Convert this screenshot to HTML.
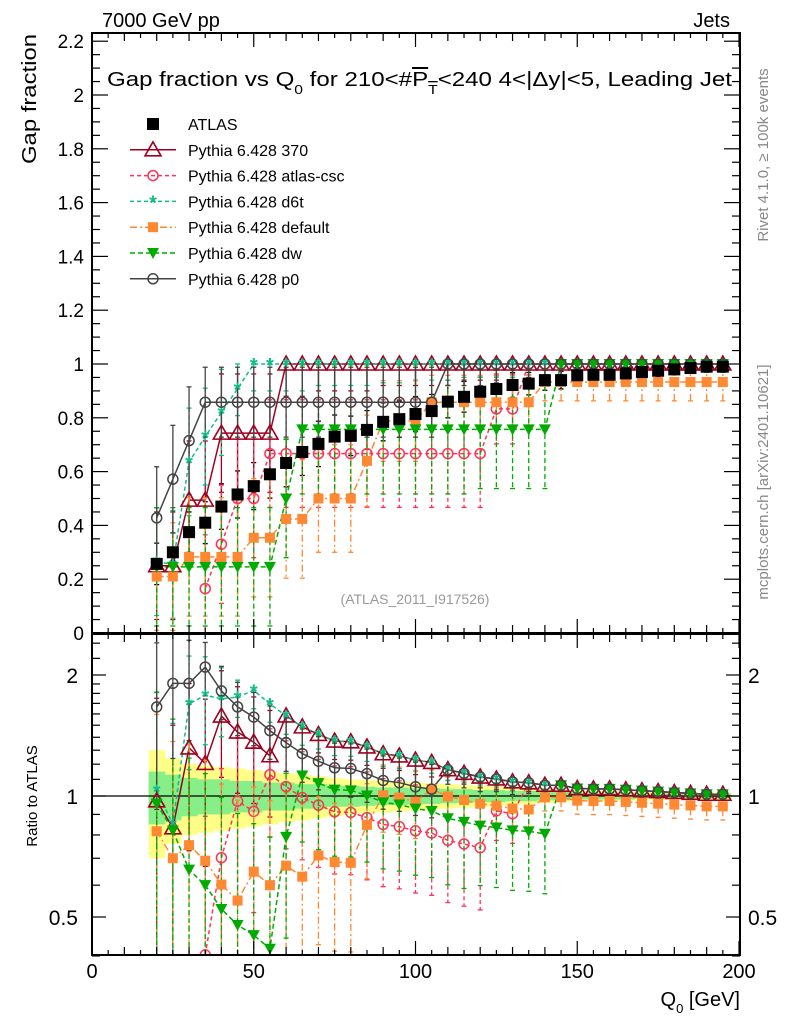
<!DOCTYPE html>
<html><head><meta charset="utf-8"><style>
html,body{margin:0;padding:0;background:#fff;width:786px;height:1024px;overflow:hidden;}
svg{display:block;font-family:"Liberation Sans",sans-serif;}
</style></head><body>
<svg id="chart" width="786" height="1024" viewBox="0 0 786 1024" xmlns="http://www.w3.org/2000/svg">
<defs>
<clipPath id="clipMain"><rect x="92" y="33" width="648" height="600"/></clipPath>
<clipPath id="clipRatio"><rect x="92" y="634" width="648" height="321"/></clipPath>
</defs>
<rect x="0" y="0" width="786" height="1024" fill="#fff"/>
<g id="mainData" clip-path="url(#clipMain)"></g>
<g id="ratioData" clip-path="url(#clipRatio)"></g>
<g id="axes"></g>
<text x="102" y="27" font-size="20">7000 GeV pp</text>
<text x="730" y="27" font-size="20" text-anchor="end">Jets</text>
<text x="107" y="86" font-size="20" textLength="625" lengthAdjust="spacingAndGlyphs">Gap fraction vs Q<tspan font-size="13" dy="8">0</tspan><tspan dy="-8"> for 210&lt;#</tspan><tspan text-decoration="overline">P</tspan><tspan font-size="13" dy="8" text-decoration="overline">T</tspan><tspan dy="-8">&lt;240  4&lt;|Δy|&lt;5, Leading Jet</tspan></text>
<text transform="translate(36,34) rotate(-90)" font-size="20" text-anchor="end" textLength="130" lengthAdjust="spacingAndGlyphs">Gap fraction</text>
<text transform="translate(37,796) rotate(-90)" font-size="15" text-anchor="middle">Ratio to ATLAS</text>
<text x="740" y="1006" font-size="20" text-anchor="end">Q<tspan font-size="13" dy="7">0</tspan><tspan dy="-7"> [GeV]</tspan></text>
<text transform="translate(768,155) rotate(-90)" font-size="15" fill="#888" text-anchor="middle">Rivet 4.1.0, ≥ 100k events</text>
<text transform="translate(768,482) rotate(-90)" font-size="15" fill="#888" text-anchor="middle">mcplots.cern.ch [arXiv:2401.10621]</text>
<text x="415" y="604" font-size="14" fill="#999" text-anchor="middle">(ATLAS_2011_I917526)</text>
<g id="legend"></g>
</svg>
<script>
const q0 = [20,25,30,35,40,45,50,55,60,65,70,75,80,85,90,95,100,105,110,115,120,125,130,135,140,145,150,155,160,165,170,175,180,185,190,195];
const atlas = [0.257,0.30,0.375,0.41,0.47,0.515,0.546,0.59,0.632,0.673,0.703,0.73,0.733,0.755,0.785,0.795,0.814,0.825,0.86,0.878,0.897,0.907,0.922,0.927,0.94,0.94,0.958,0.96,0.96,0.965,0.97,0.975,0.98,0.985,0.99,0.99];
const atlasTot = [0.30,0.24,0.20,0.19,0.18,0.17,0.16,0.15,0.14,0.13,0.12,0.11,0.10,0.095,0.09,0.085,0.08,0.075,0.07,0.065,0.06,0.055,0.05,0.045,0.04,0.035,0.03,0.03,0.03,0.025,0.025,0.025,0.02,0.02,0.02,0.02];
const atlasStat = [0.15,0.13,0.11,0.10,0.10,0.09,0.09,0.08,0.08,0.07,0.07,0.06,0.06,0.055,0.05,0.05,0.045,0.045,0.04,0.04,0.035,0.035,0.03,0.03,0.025,0.025,0.02,0.02,0.02,0.02,0.015,0.015,0.015,0.015,0.015,0.015];
const p370 = [0.25,0.25,0.494,0.494,0.743,0.743,0.743,0.743,1,1,1,1,1,1,1,1,1,1,1,1,1,1,1,1,1,1,1,1,1,1,1,1,1,1,1,1];
const e370 = [0.2,0.2,0.22,0.22,0.22,0.22,0.22,0.22,0.12,0.12,0.1,0.1,0.1,0.1,0.08,0.08,0.08,0.08,0.06,0.06,0.06,0.06,0.05,0.05,0.05,0.05,0.04,0.04,0.04,0.04,0.03,0.03,0.03,0.03,0.03,0.03];
const pcsc = [null,null,null,0.165,0.33,0.5,0.5,0.667,0.667,0.667,0.667,0.667,0.667,0.667,0.667,0.667,0.667,0.667,0.667,0.667,0.667,0.833,0.833,1,1,1,1,1,1,1,1,1,1,1,1,1];
const ecsc = [0,0,0,0.2,0.22,0.22,0.22,0.2,0.2,0.2,0.2,0.2,0.2,0.2,0.2,0.2,0.2,0.2,0.2,0.2,0.2,0.13,0.13,0.06,0.05,0.05,0.04,0.04,0.04,0.04,0.03,0.03,0.03,0.03,0.03,0.03];
const pd6t = [0.265,0.255,0.636,0.73,0.82,0.908,1,1,1,1,1,1,1,1,1,1,1,1,1,1,1,1,1,1,1,1,1,1,1,1,1,1,1,1,1,1];
const ed6t = [0.2,0.2,0.2,0.18,0.16,0.1,0.1,0.1,0.1,0.1,0.08,0.08,0.08,0.08,0.07,0.07,0.06,0.06,0.06,0.05,0.05,0.05,0.05,0.04,0.04,0.04,0.04,0.04,0.03,0.03,0.03,0.03,0.03,0.03,0.03,0.03];
const pdef = [0.21,0.21,0.283,0.283,0.283,0.283,0.354,0.354,0.424,0.424,0.5,0.5,0.5,0.64,0.788,0.788,0.788,0.858,0.858,0.858,0.858,0.858,0.858,0.858,0.933,0.933,0.933,0.933,0.933,0.933,0.933,0.933,0.933,0.933,0.933,0.933];
const edef = [0.2,0.2,0.22,0.22,0.22,0.22,0.22,0.22,0.22,0.22,0.2,0.2,0.2,0.17,0.15,0.15,0.15,0.1,0.1,0.1,0.1,0.1,0.1,0.1,0.07,0.07,0.07,0.07,0.07,0.07,0.07,0.07,0.07,0.07,0.07,0.07];
const pdw = [0.246,0.246,0.246,0.246,0.246,0.246,0.246,0.246,0.5,0.757,0.757,0.757,0.757,0.757,0.757,0.757,0.757,0.757,0.757,0.757,0.757,0.757,0.757,0.757,0.757,1,1,1,1,1,1,1,1,1,1,1];
const edw = [0.22,0.22,0.22,0.22,0.22,0.22,0.22,0.22,0.22,0.24,0.24,0.24,0.24,0.24,0.24,0.24,0.24,0.24,0.24,0.24,0.22,0.22,0.22,0.22,0.22,0.05,0.04,0.04,0.04,0.04,0.03,0.03,0.03,0.03,0.03,0.03];
const pp0 = [0.428,0.572,0.715,0.858,0.858,0.858,0.858,0.858,0.858,0.858,0.858,0.858,0.858,0.858,0.858,0.858,0.858,0.858,1,1,1,1,1,1,1,1,1,1,1,1,1,1,1,1,1,1];
const ep0 = [0.19,0.2,0.2,0.13,0.13,0.13,0.13,0.13,0.13,0.13,0.13,0.13,0.13,0.13,0.13,0.13,0.13,0.13,0.08,0.08,0.08,0.07,0.07,0.06,0.06,0.05,0.05,0.05,0.04,0.04,0.04,0.04,0.03,0.03,0.03,0.03];
const xTicks = [0,50,100,150,200];
const yTicks = [0,0.2,0.4,0.6,0.8,1,1.2,1.4,1.6,1.8,2,2.2];
const rTicks = [0.5,1,2];

const NS="http://www.w3.org/2000/svg";
const X = g => 92 + g*3.235;
const Y = v => 633 - v*269;
const R = r => 796 - Math.log2(r)*121;
function mk(tag, attrs, parent){const e=document.createElementNS(NS,tag);for(const k in attrs)e.setAttribute(k,attrs[k]);parent.appendChild(e);return e;}
const mainG=document.getElementById('mainData'), ratioG=document.getElementById('ratioData'), axG=document.getElementById('axes'), legG=document.getElementById('legend');

const series = [
 {name:'Pythia 6.428 370', key:'pythia-370', v:p370, e:e370, c:'#a0001e', dash:'', m:'tri-open'},
 {name:'Pythia 6.428 atlas-csc', key:'pythia-atlas-csc', v:pcsc, e:ecsc, c:'#ff3355', dash:'4,3', m:'circ-open'},
 {name:'Pythia 6.428 d6t', key:'pythia-d6t', v:pd6t, e:ed6t, c:'#11bb88', dash:'4,3', m:'star'},
 {name:'Pythia 6.428 default', key:'pythia-default', v:pdef, e:edef, c:'#ff8833', dash:'7,3,2,3', m:'sq'},
 {name:'Pythia 6.428 dw', key:'pythia-dw', v:pdw, e:edw, c:'#00aa00', dash:'5,3', m:'tri-down'},
 {name:'Pythia 6.428 p0', key:'pythia-p0', v:pp0, e:ep0, c:'#444444', dash:'', m:'circ-open'}
];

function marker(parent,type,x,y,c,key){
  let el;
  if(type==='sqblack'){el=mk('rect',{x:x-6,y:y-6,width:12,height:12,fill:'#000'},parent);}
  else if(type==='sq'){el=mk('rect',{x:x-5,y:y-5,width:10,height:10,fill:c},parent);}
  else if(type==='tri-open'){el=mk('polygon',{points:`${x},${y-8} ${x-8},${y+6} ${x+8},${y+6}`,fill:'none',stroke:c,'stroke-width':1.6},parent);}
  else if(type==='tri-down'){el=mk('polygon',{points:`${x-6},${y-5} ${x+6},${y-5} ${x},${y+6}`,fill:c},parent);}
  else if(type==='circ-open'){el=mk('circle',{cx:x,cy:y,r:5,fill:'none',stroke:c,'stroke-width':1.5},parent);}
  else {el=mk('text',{x:x,y:y+8,'font-size':20,'text-anchor':'middle',fill:c,'font-weight':'bold'},parent);el.textContent='*';}
  
  
  return el;
}
function errbar(parent,x,y1,y2,c,dash,key){
  const l=mk('line',{x1:x,y1:y1,x2:x,y2:y2,stroke:c,'stroke-width':1.3,'stroke-dasharray':dash},parent);
  
  
  mk('line',{x1:x-2.5,y1:y1,x2:x+2.5,y2:y1,stroke:c,'stroke-width':1.3},parent);
  mk('line',{x1:x-2.5,y1:y2,x2:x+2.5,y2:y2,stroke:c,'stroke-width':1.3},parent);
}

const bw = 5*3.235;
q0.forEach((g,i)=>{
  const x=X(g)-bw/2;
  const b1=mk('rect',{x:x,y:R(1+atlasTot[i]),width:bw+0.5,height:R(1-atlasTot[i])-R(1+atlasTot[i]),fill:'#ffff88'},ratioG);
  
  
});
q0.forEach((g,i)=>{
  const x=X(g)-bw/2;
  const b2=mk('rect',{x:x,y:R(1+atlasStat[i]),width:bw+0.5,height:R(1-atlasStat[i])-R(1+atlasStat[i]),fill:'#88ee88'},ratioG);
  
  
});
const one=mk('line',{x1:92,y1:R(1),x2:740,y2:R(1),stroke:'#000','stroke-width':1.2},ratioG);



q0.forEach((g,i)=>{errbar(mainG,X(g),Y(Math.min(atlas[i]*(1+atlasTot[i]),1)),Y(atlas[i]*(1-atlasTot[i])),'#000','','atlas');});

series.forEach(s=>{
  [[mainG,1],[ratioG,0]].forEach(([G,isMain])=>{
    const pts=[];
    q0.forEach((g,i)=>{
      const v=s.v[i]; if(v===null) return;
      const hi=Math.min(v+s.e[i],1), lo=Math.max(v-s.e[i],0.001);
      let yc,y1,y2;
      if(isMain){yc=Y(v);y1=Y(hi);y2=Y(lo);}
      else{const a=atlas[i];yc=R(v/a);y1=R(hi/a);y2=R(lo/a);}
      errbar(G,X(g),y1,y2,s.c,s.dash,s.key);
      pts.push(X(g)+','+yc);
    });
    const pl=mk('polyline',{points:pts.join(' '),fill:'none',stroke:s.c,'stroke-width':1.5,'stroke-dasharray':s.dash},G);
    
    
  });
});
series.forEach(s=>{
  q0.forEach((g,i)=>{
    const v=s.v[i]; if(v===null) return;
    marker(mainG,s.m,X(g),Y(v),s.c,s.key);
    marker(ratioG,s.m,X(g),R(v/atlas[i]),s.c,s.key);
  });
});
q0.forEach((g,i)=>{marker(mainG,'sqblack',X(g),Y(atlas[i]),'#000','atlas');});

[[33,633],[634,955]].forEach(([t,b],k)=>{
  const f=mk('rect',{x:92,y:t,width:648,height:b-t,fill:'none',stroke:'#000','stroke-width':2},axG);
  
  
  for(let g=0;g<=200;g+=5){
    const L = g%50===0?14:(g%10===0?8:5);
    mk('line',{x1:X(g),y1:b,x2:X(g),y2:b-L,stroke:'#000','stroke-width':1.2},axG);
    mk('line',{x1:X(g),y1:t,x2:X(g),y2:t+L,stroke:'#000','stroke-width':1.2},axG);
  }
});
for(let v=0;v<=2.2001;v+=0.05){
  const L=(Math.round(v*100)%20===0)?16:8;
  mk('line',{x1:92,y1:Y(v),x2:92+L,y2:Y(v),stroke:'#000','stroke-width':1.2},axG);
  mk('line',{x1:740,y1:Y(v),x2:740-L,y2:Y(v),stroke:'#000','stroke-width':1.2},axG);
}
yTicks.forEach(v=>{
  const t=mk('text',{x:84,y:Y(v)+7,'font-size':19,'text-anchor':'end'},axG);
  t.textContent=String(v);
  
  
});
[0.4,0.6,0.7,0.8,0.9,1.1,1.2,1.3,1.4,1.5,1.6,1.7,1.8,1.9,2.2,2.4].forEach(r=>{
  mk('line',{x1:92,y1:R(r),x2:100,y2:R(r),stroke:'#000','stroke-width':1.2},axG);
  mk('line',{x1:740,y1:R(r),x2:732,y2:R(r),stroke:'#000','stroke-width':1.2},axG);
});
rTicks.forEach(r=>{
  mk('line',{x1:92,y1:R(r),x2:106,y2:R(r),stroke:'#000','stroke-width':1.2},axG);
  mk('line',{x1:740,y1:R(r),x2:726,y2:R(r),stroke:'#000','stroke-width':1.2},axG);
  const t=mk('text',{x:78,y:R(r)+8,'font-size':21,'text-anchor':'end'},axG);
  t.textContent=String(r);
  
  
  const t2=mk('text',{x:748,y:R(r)+8,'font-size':21,'text-anchor':'start'},axG);
  t2.textContent=String(r);
  
  
});
xTicks.forEach(g=>{
  const t=mk('text',{x:X(g),y:978,'font-size':20,'text-anchor':'middle'},axG);
  t.textContent=String(g);
  
  
});

const legRows=[{name:'ATLAS',key:'atlas',m:'sqblack',c:'#000',dash:'',line:false}].concat(series.map(s=>({name:s.name,key:s.key,m:s.m,c:s.c,dash:s.dash,line:true})));
legRows.forEach((r,i)=>{
  const y=124+i*25.8;
  const g=mk('g',{},legG);
  
  
  if(r.line){mk('line',{x1:130,y1:y,x2:176,y2:y,stroke:r.c,'stroke-width':1.5,'stroke-dasharray':r.dash},g);}
  marker(g,r.m,153,y,r.c,'legend-'+r.key);
  const t=mk('text',{x:188,y:y+6,'font-size':16},g);
  t.textContent=r.name;
});
</script>
</body></html>
